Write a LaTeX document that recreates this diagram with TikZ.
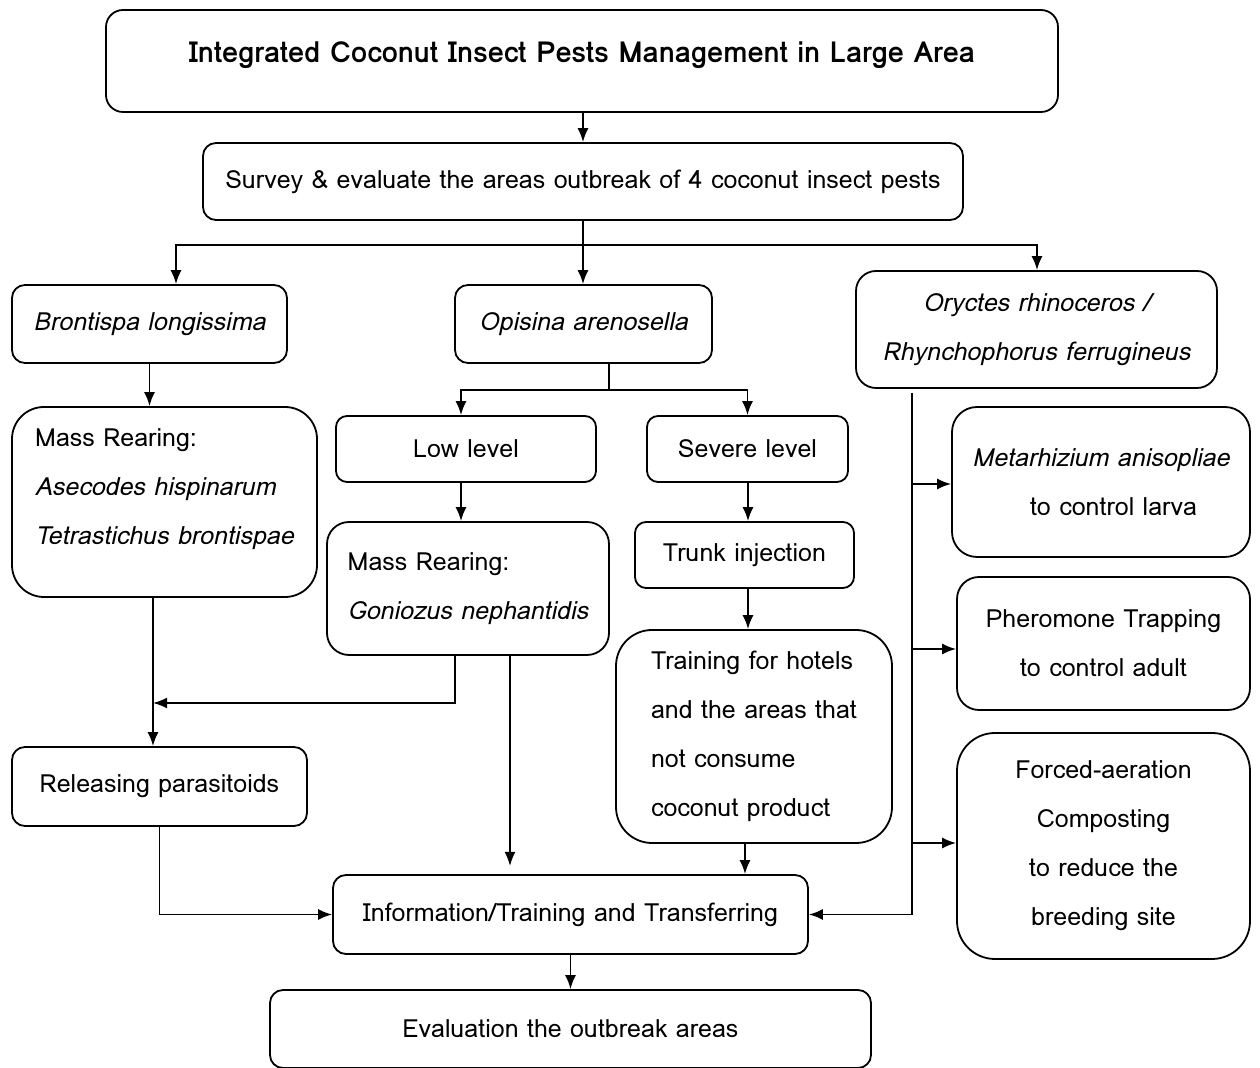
\documentclass[tikz,border=0pt]{standalone}
\usepackage{fontspec}
\setmainfont{Loma}
\usetikzlibrary{arrows.meta}

\begin{document}
\begin{tikzpicture}[x=0.5pt, y=-0.5pt, >={Latex[length=7pt,width=5.5pt]},
  box/.style={draw, line width=0.9pt, rounded corners=#1, align=center, inner sep=0pt,
    font=\fontsize{12.5}{24.5}\selectfont},
  box/.default=6.5pt,
  line/.style={line width=0.9pt}]

  \useasboundingbox (0,0) rectangle (1260,1068);

  % top of the chart
  \node [box=8.5pt, minimum width=476pt, minimum height=51pt, text depth=9pt,
    font=\fontsize{14.5}{24.5}\selectfont\bfseries] (ttl) at (582,61)
    {Integrated Coconut Insect Pests Management in Large Area};
  \node [box, minimum width=380pt, minimum height=38.5pt] (survey) at (583,181.5)
    {Survey \& evaluate the areas outbreak of 4 coconut insect pests};

  % the three pest groups
  \node [box, minimum width=137.5pt, minimum height=39pt] (bront) at (149.5,324)
    {\itshape Brontispa longissima};
  \node [box, minimum width=128.5pt, minimum height=39pt] (opis) at (583.5,324)
    {\itshape Opisina arenosella};
  \node [box=10pt, minimum width=180.5pt, minimum height=58.5pt] (oryc) at (1036.5,329.5)
    {\itshape Oryctes rhinoceros /\\ \itshape Rhynchophorus ferrugineus};

  % left column
  \node [box=16pt, align=left, minimum width=152.5pt, minimum height=95pt, text depth=15.5pt]
    (rear1) at (164.5,502)
    {Mass Rearing:\\ \itshape Asecodes hispinarum\\ \itshape Tetrastichus brontispae};
  \node [box, minimum width=147.5pt, minimum height=39.5pt] (release) at (159.5,786.5)
    {Releasing parasitoids};

  % middle columns
  \node [box=5.5pt, minimum width=130pt, minimum height=33pt] (low) at (466,449) {Low level};
  \node [box=5.5pt, minimum width=100.5pt, minimum height=33pt] (severe) at (747.5,449) {Severe level};
  \node [box=11pt, align=left, minimum width=141pt, minimum height=66.5pt] (rear2) at (468,588.5)
    {Mass Rearing:\\ \itshape Goniozus nephantidis};
  \node [box=5.5pt, minimum width=109.5pt, minimum height=33pt] (trunk) at (744.5,555) {Trunk injection};
  \node [box=18pt, align=left, minimum width=138pt, minimum height=106.5pt] (hotel) at (754,736.5)
    {Training for hotels\\ and the areas that\\ not consume\\ coconut product};

  % right column
  \node [box=12.5pt, minimum width=149pt, minimum height=75pt] (metar) at (1101,482)
    {\itshape Metarhizium anisopliae\\ \quad to control larva};
  \node [box=11pt, minimum width=146.5pt, minimum height=66.5pt] (phero) at (1103.5,643.5)
    {Pheromone Trapping\\ to control adult};
  \node [box=19pt, minimum width=146.5pt, minimum height=113pt] (compost) at (1103.5,846)
    {Forced-aeration\\ Composting\\ to reduce the\\ breeding site};

  % bottom
  \node [box, minimum width=237.5pt, minimum height=39.5pt] (info) at (570.5,914.5)
    {Information/Training and Transferring};
  \node [box, minimum width=300.5pt, minimum height=39pt] (eval) at (570.5,1029)
    {Evaluation the outbreak areas};

  \coordinate (split1) at (583,245);
  \coordinate (split2) at (609,390);
  \coordinate (rail) at (912,393);
  \coordinate (join1) at (153,703);

  \draw[line,->] (ttl.south -| survey.north) -- (survey.north);
  \draw[line] (survey.south) -- (split1);
  \draw[line,->] (split1) -| (176,0 |- bront.north);
  \draw[line,->] (split1) -- (split1 |- opis.north);
  \draw[line,->] (split1) -| (1037,0 |- oryc.north);

  \draw[line,->] (bront.south) -- (bront.south |- rear1.north);
  \draw[line,->] (153,0 |- rear1.south) -- (153,0 |- release.north);
  \draw[line,->] (455,0 |- rear2.south) |- (join1);
  \draw[line,->] (release.south) |- (info.west);

  \draw[line] (split2 |- opis.south) -- (split2);
  \draw[line,->] (split2) -| (461,0 |- low.north);
  \draw[line,->] (split2) -| (severe.north);
  \draw[line,->] (461,0 |- low.south) -- (461,0 |- rear2.north);
  \draw[line,->] (748,0 |- severe.south) -- (748,0 |- trunk.north);
  \draw[line,->] (748,0 |- trunk.south) -- (748,0 |- hotel.north);
  \draw[line,->] (510,0 |- rear2.south) -- (510,866);
  \draw[line,->] (745,0 |- hotel.south) -- (745,0 |- info.north);

  \draw[line,->] (rail) |- (info.east);
  \draw[line,->] (rail |- 0,484) -- (metar.west |- 0,484);
  \draw[line,->] (rail |- 0,649) -- (phero.west |- 0,649);
  \draw[line,->] (rail |- 0,843) -- (compost.west |- 0,843);

  \draw[line,->] (info.south) -- (eval.north);
\end{tikzpicture}
\end{document}
